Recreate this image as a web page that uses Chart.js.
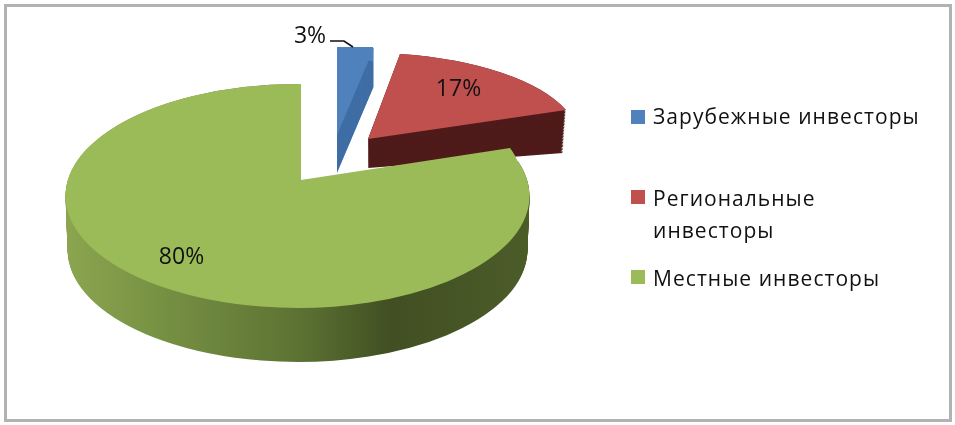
<!DOCTYPE html>
<html>
<head>
<meta charset="utf-8">
<title>Инвесторы</title>
<script src="https://cdn.jsdelivr.net/npm/chart.js@4"></script>
<style>
html, body { margin: 0; padding: 0; background: #fff; }
#wrap { width: 955px; height: 425px; position: relative; }
</style>
</head>
<body>
<div id="wrap"><canvas id="myChart" width="955" height="425"></canvas></div>
<script>
//----------------------------данные----------------------------
const categories = ['Зарубежные инвесторы', ['Региональные', 'инвесторы'], 'Местные инвесторы'];
const shares = [3, 17, 80];
const faceColors = ['#4f81bd', '#c0504d', '#9bbb59'];

//----------------------------3d вид----------------------------
// every slice is an ordinary arc element, drawn under its own view matrix (pixels per unit radius)
const views = [
    {
        wall: { from: [337, 135, 196, 0, 0, 88], to: [337, 173, 196, 0, 0, 88], color: '#3f6ea5' },
        faces: [[337, 135, 196, 0, 0, 88], [373, 62, 189, -1.4, 36, 15]]
    },
    {
        wall: { from: [368, 139, 210.6, -2.5, 7.6, 86], to: [368, 168, 207.3, 3, 7, 57.6], color: '#4f1b1a' },
        faces: [[368, 139, 210.6, -2.5, 7.6, 86]]
    },
    {
        wall: {
            from: [297.5, 196, 232, 0, 0, 112], to: [297.5, 250, 230, 0, 0, 112],
            stops: [[65, '#8ba550'], [170, '#758f42'], [300, '#5c7233'], [390, '#414f22'], [530, '#4c5c29']]
        },
        faces: [[297.5, 196, 232, 0, 0, 112], [301, 180, 219.8, -2.5, 0, 96]]
    }
];
const labelSpots = [[310, 36], [458.5, 89], [181.5, 257]];
// x, box y, first text line y
const legendSpots = [[631, 117, 118], [631, 197, 200], [631, 277, 280]];

function drawThrough(ctx, el, m) {
    ctx.save();
    const r = el.outerRadius;
    ctx.transform(m[2] / r, m[3] / r, m[4] / r, m[5] / r, m[0], m[1]);
    ctx.translate(-el.x, -el.y);
    el.draw(ctx);
    ctx.restore();
}

function wallFill(ctx, el, m, wall) {
    if (!wall.stops) return wall.color;
    // gradient is in the arc's own coordinates, so it has to go through the matrix backwards
    const toLocal = (x) => (x - m[0]) / m[2] * el.outerRadius + el.x;
    const first = wall.stops[0][0];
    const last = wall.stops[wall.stops.length - 1][0];
    const g = ctx.createLinearGradient(toLocal(first), 0, toLocal(last), 0);
    wall.stops.forEach((s) => g.addColorStop((s[0] - first) / (last - first), s[1]));
    return g;
}

const pie3d = {
    id: 'pie3d',
    beforeDraw(chart) {
        const ctx = chart.ctx;
        ctx.save();
        ctx.strokeStyle = '#b2b2b2';
        ctx.lineWidth = 3;
        ctx.strokeRect(5.5, 5.5, 945, 415);
        ctx.restore();
    },
    beforeDatasetDraw(chart, args) {
        const ctx = chart.ctx;
        args.meta.data.forEach((el, i) => {
            const view = views[i];
            const base = el.options;
            const over = Object.create(base);
            el.options = over;
            const steps = Math.ceil(view.wall.to[1] - view.wall.from[1]);
            for (let k = steps; k >= 0; k--) {
                const m = view.wall.from.map((v, j) => v + (view.wall.to[j] - v) * k / steps);
                over.backgroundColor = wallFill(ctx, el, m, view.wall);
                drawThrough(ctx, el, m);
            }
            el.options = base;
            view.faces.forEach((m) => drawThrough(ctx, el, m));
        });
        return false;
    },
    afterDraw(chart) {
        const ctx = chart.ctx;
        ctx.save();
        const total = shares.reduce((a, b) => a + b, 0);
        ctx.fillStyle = '#111';
        ctx.textAlign = 'center';
        ctx.textBaseline = 'middle';
        ctx.font = '23px "Open Sans"';
        shares.forEach((v, i) => {
            ctx.fillText(Math.round(v / total * 100) + '%', labelSpots[i][0], labelSpots[i][1]);
        });

        // выноска к 3%
        ctx.strokeStyle = '#111';
        ctx.lineWidth = 1.6;
        ctx.beginPath();
        ctx.moveTo(330, 41);
        ctx.lineTo(344, 41);
        ctx.lineTo(353, 47);
        ctx.stroke();

        // легенда
        ctx.textAlign = 'left';
        ctx.font = '21px "Open Sans"';
        ctx.letterSpacing = '1.05px';
        categories.forEach((label, i) => {
            const [x, y, textY] = legendSpots[i];
            ctx.fillStyle = faceColors[i];
            ctx.fillRect(x, y - 7, 14, 14);
            ctx.fillStyle = '#111';
            [].concat(label).forEach((line, n) => ctx.fillText(line, x + 22, textY + n * 32));
        });
        ctx.restore();
    }
};

const ctx = document.getElementById('myChart');
const myChart = new Chart(ctx, {
    type: 'pie',
    data: {
        labels: categories,
        datasets: [{
            data: shares,
            backgroundColor: faceColors,
            borderWidth: 0,
        }]
    },
    options: {
        responsive: false,
        animation: false,
        events: [],
        plugins: {
            legend: { display: false },
            tooltip: { enabled: false },
        },
    },
    plugins: [pie3d]
});
</script>
</body>
</html>
